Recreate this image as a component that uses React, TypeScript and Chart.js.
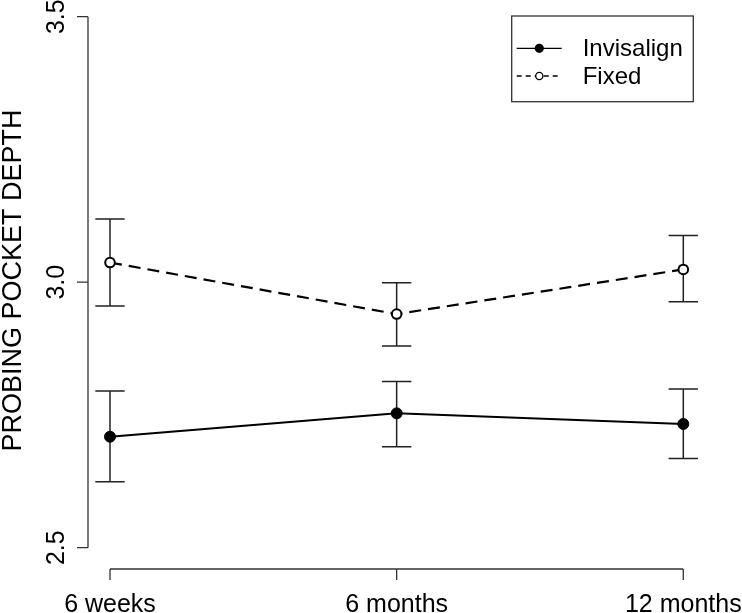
import React, { useEffect, useRef } from "react";
import { Chart, registerables } from "chart.js";

Chart.register(...registerables);

const categories = ["6 weeks", "6 months", "12 months"];
const invisalign = [2.709, 2.753, 2.733];
const invisalignLow = [2.624, 2.69, 2.668];
const invisalignHigh = [2.795, 2.813, 2.799];
const fixed = [3.037, 2.94, 3.024];
const fixedLow = [2.955, 2.88, 2.963];
const fixedHigh = [3.119, 2.999, 3.088];
const yTicks = [2.5, 3.0, 3.5];
const yTitle = "PROBING POCKET DEPTH";
const seriesNames = ["Invisalign", "Fixed"];

const FONT = '"Liberation Sans", Arial, Helvetica, sans-serif';

const rPlot = {
  id: "rPlot",
  beforeDatasetsDraw(chart: any) {
    const ctx = chart.ctx;
    const xs = chart.scales.x;
    const ys = chart.scales.y;
    ctx.save();
    ctx.strokeStyle = "#222";
    ctx.lineWidth = 1.5;
    const bars = [
      [invisalignLow, invisalignHigh],
      [fixedLow, fixedHigh],
    ];
    bars.forEach(([lo, hi]) => {
      lo.forEach((l: number, i: number) => {
        const x = xs.getPixelForValue(i);
        const y1 = ys.getPixelForValue(l);
        const y2 = ys.getPixelForValue(hi[i]);
        ctx.beginPath();
        ctx.moveTo(x, y1);
        ctx.lineTo(x, y2);
        ctx.moveTo(x - 14.7, y1);
        ctx.lineTo(x + 14.7, y1);
        ctx.moveTo(x - 14.7, y2);
        ctx.lineTo(x + 14.7, y2);
        ctx.stroke();
      });
    });
    ctx.restore();
  },
  afterDraw(chart: any) {
    const ctx = chart.ctx;
    const xs = chart.scales.x;
    const ys = chart.scales.y;
    ctx.save();
    ctx.strokeStyle = "#333";
    ctx.fillStyle = "#000";
    ctx.lineWidth = 1.3;
    // y axis
    const ax = 88;
    const yTop = ys.getPixelForValue(yTicks[yTicks.length - 1]);
    const yBot = ys.getPixelForValue(yTicks[0]);
    ctx.beginPath();
    ctx.moveTo(ax, yTop);
    ctx.lineTo(ax, yBot);
    yTicks.forEach((t) => {
      const y = ys.getPixelForValue(t);
      ctx.moveTo(ax, y);
      ctx.lineTo(ax - 11, y);
    });
    ctx.stroke();
    ctx.font = `25px ${FONT}`;
    yTicks.forEach((t) => {
      const y = ys.getPixelForValue(t);
      ctx.save();
      ctx.translate(63.5, y);
      ctx.rotate(-Math.PI / 2);
      ctx.textAlign = "center";
      ctx.textBaseline = "alphabetic";
      ctx.fillText(t.toFixed(1), 0, 0);
      ctx.restore();
    });
    // y title
    ctx.save();
    ctx.translate(20.5, 280.5);
    ctx.rotate(-Math.PI / 2);
    ctx.textAlign = "center";
    ctx.font = `27px ${FONT}`;
    ctx.fillText(yTitle, 0, 0);
    ctx.restore();
    // x axis
    const ay = 569;
    const x0 = xs.getPixelForValue(0);
    const x2 = xs.getPixelForValue(categories.length - 1);
    ctx.beginPath();
    ctx.moveTo(x0, ay);
    ctx.lineTo(x2, ay);
    categories.forEach((_, i) => {
      const x = xs.getPixelForValue(i);
      ctx.moveTo(x, ay);
      ctx.lineTo(x, ay + 11);
    });
    ctx.stroke();
    ctx.font = `25px ${FONT}`;
    ctx.textAlign = "center";
    ctx.textBaseline = "alphabetic";
    categories.forEach((c, i) => {
      ctx.fillText(c, xs.getPixelForValue(i), 611.5);
    });
    // legend
    ctx.lineWidth = 1.3;
    ctx.strokeStyle = "#333";
    ctx.strokeRect(511.7, 16, 181.6, 85.7);
    const rows = [48.3, 76];
    ctx.font = `24px ${FONT}`;
    ctx.textAlign = "left";
    ctx.textBaseline = "middle";
    rows.forEach((ry, k) => {
      ctx.strokeStyle = "#000";
      ctx.lineWidth = 1.3;
      ctx.setLineDash(k === 0 ? [] : [5, 4]);
      ctx.beginPath();
      ctx.moveTo(516.7, ry);
      ctx.lineTo(561.7, ry);
      ctx.stroke();
      ctx.setLineDash([]);
      ctx.beginPath();
      if (k === 0) {
        ctx.arc(539.3, ry, 4.6, 0, Math.PI * 2);
        ctx.fillStyle = "#000";
        ctx.fill();
      } else {
        ctx.arc(539.3, ry, 3.6, 0, Math.PI * 2);
        ctx.fillStyle = "#fff";
        ctx.fill();
        ctx.stroke();
      }
      ctx.fillStyle = "#000";
      ctx.fillText(seriesNames[k], 582.7, ry + 1);
    });
    ctx.restore();
  },
};

export default function App() {
  const ref = useRef<HTMLCanvasElement | null>(null);
  useEffect(() => {
    if (!ref.current) return;
    const chart = new Chart(ref.current, {
      type: "line",
      data: {
        datasets: [
          {
            label: seriesNames[0],
            data: invisalign.map((v, i) => ({ x: i, y: v })),
            borderColor: "#000",
            borderWidth: 2,
            pointRadius: 5.5,
            pointBackgroundColor: "#000",
            pointBorderColor: "#000",
            pointBorderWidth: 1,
            clip: false as any,
          },
          {
            label: seriesNames[1],
            data: fixed.map((v, i) => ({ x: i, y: v })),
            borderColor: "#000",
            borderWidth: 2.2,
            borderDash: [12, 7],
            pointRadius: 4.8,
            pointBackgroundColor: "#fff",
            pointBorderColor: "#000",
            pointBorderWidth: 2,
            clip: false as any,
          },
        ],
      },
      options: {
        responsive: false,
        animation: false,
        devicePixelRatio: 1,
        layout: { padding: { left: 110, right: 58.7, top: 16.7, bottom: 65.3 } },
        scales: {
          x: { type: "linear", min: 0, max: categories.length - 1, display: false },
          y: { type: "linear", min: yTicks[0], max: yTicks[yTicks.length - 1], display: false },
        },
        plugins: { legend: { display: false }, tooltip: { enabled: false } },
      },
      plugins: [rPlot],
    });
    return () => chart.destroy();
  }, []);
  return (
    <div style={{ position: "absolute", left: 0, top: 0, background: "#fff" }}>
      <canvas ref={ref} width={742} height={613} style={{ display: "block" }} />
    </div>
  );
}
